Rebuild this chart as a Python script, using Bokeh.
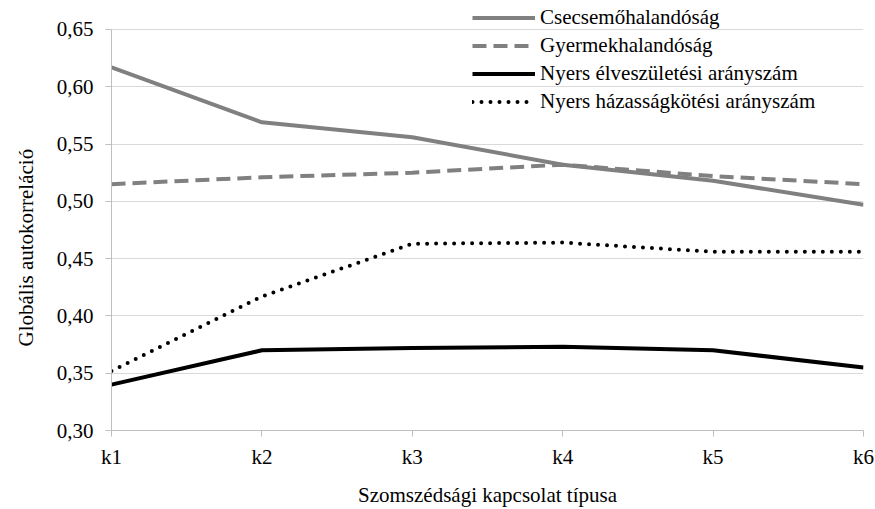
from bokeh.plotting import figure
from bokeh.models import FixedTicker, Legend, LegendItem, Range1d, Title
from bokeh.embed import file_html
from bokeh.resources import INLINE

categories = ["k1", "k2", "k3", "k4", "k5", "k6"]
csecsemo = [0.617, 0.569, 0.556, 0.532, 0.518, 0.497]
gyermek = [0.515, 0.521, 0.525, 0.532, 0.522, 0.515]
elveszuletes = [0.340, 0.370, 0.372, 0.373, 0.370, 0.355]
hazassag = [0.352, 0.417, 0.463, 0.464, 0.456, 0.456]
y_ticks = [0.30, 0.35, 0.40, 0.45, 0.50, 0.55, 0.60, 0.65]

FONT = "Liberation Serif"
FS = "21px"
xs = list(range(1, len(categories) + 1))

p = figure(width=875, height=509, output_backend="svg", toolbar_location=None,
           x_range=Range1d(1, 6), y_range=Range1d(0.30, 0.6753),
           min_border_left=111, min_border_right=12, min_border_top=0, min_border_bottom=79)
p.outline_line_color = None
p.background_fill_color = "white"

r1 = p.line(xs, csecsemo, line_color="#808080", line_width=4)
r2 = p.line(xs, gyermek, line_color="#808080", line_width=4, line_dash="14 7")
r3 = p.line(xs, elveszuletes, line_color="#000000", line_width=4)
r4 = p.line(xs, hazassag, line_color="#000000", line_width=4, line_dash="0 9", line_cap="round")

p.xaxis.ticker = FixedTicker(ticks=xs)
p.xaxis.major_label_overrides = {x: c for x, c in zip(xs, categories)}
p.yaxis.ticker = FixedTicker(ticks=y_ticks)
p.yaxis.major_label_overrides = {t: f"{t:.2f}".replace(".", ",") for t in y_ticks}
p.yaxis.bounds = (0.30, 0.65)

for ax in (p.xaxis[0], p.yaxis[0]):
    ax.axis_line_color = "#bfbfbf"
    ax.major_tick_line_color = "#bfbfbf"
    ax.minor_tick_line_color = None
    ax.major_tick_in = 0
    ax.major_tick_out = 6
    ax.major_label_text_font = FONT
    ax.major_label_text_font_size = FS
    ax.major_label_text_color = "black"

p.xaxis.axis_label = "Szomszédsági kapcsolat típusa"
p.xaxis.axis_label_text_font = FONT
p.xaxis.axis_label_text_font_size = FS
p.xaxis.axis_label_text_font_style = "normal"
p.xaxis.axis_label_text_color = "black"
p.xaxis.major_label_standoff = 8
p.yaxis.major_label_standoff = 12
p.xaxis.axis_label_standoff = 11

ytitle = Title(text="Globális autokorreláció", align="left", offset=84,
               vertical_align="top", standoff=27, text_font=FONT, text_font_size=FS,
               text_font_style="normal", text_color="black")
p.add_layout(ytitle, "left")

p.xgrid.grid_line_color = None
p.ygrid.grid_line_color = "#d9d9d9"
p.ygrid.grid_line_width = 1

legend = Legend(items=[
    LegendItem(label="Csecsemőhalandóság", renderers=[r1]),
    LegendItem(label="Gyermekhalandóság", renderers=[r2]),
    LegendItem(label="Nyers élveszületési arányszám", renderers=[r3]),
    LegendItem(label="Nyers házasságkötési arányszám", renderers=[r4]),
], location=(361, 316))
legend.glyph_width = 63
legend.glyph_height = 25
legend.label_height = 25
legend.spacing = 3
legend.padding = 0
legend.margin = 0
legend.label_standoff = 5
legend.border_line_alpha = 0
legend.background_fill_alpha = 0
legend.label_text_font = FONT
legend.label_text_font_size = FS
legend.label_text_color = "black"
p.add_layout(legend, "center")

open("out.html", "w").write(file_html(p, INLINE))
